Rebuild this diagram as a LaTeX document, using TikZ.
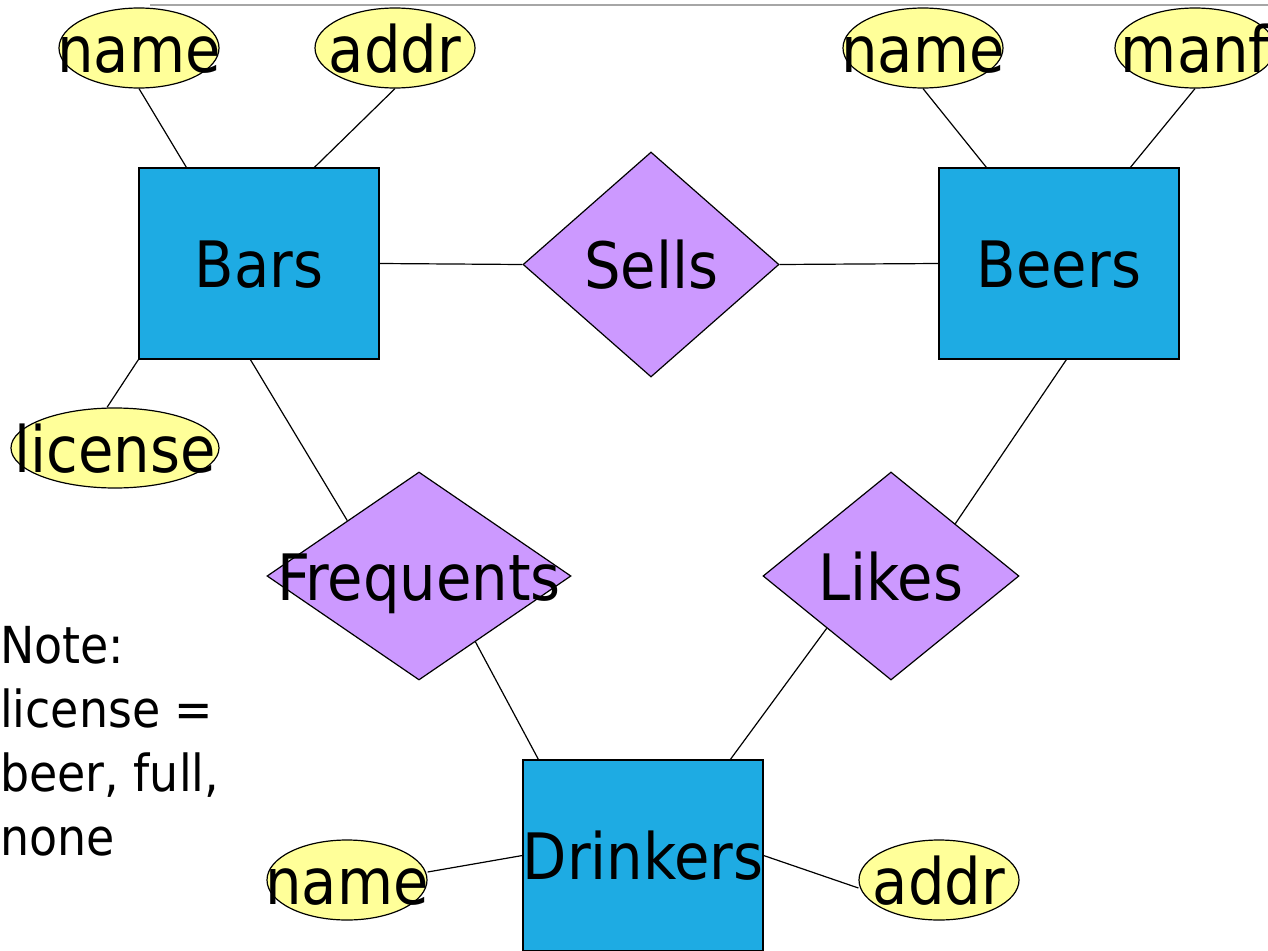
\documentclass[tikz,border=0pt]{standalone}
\usepackage{fontspec}
\setmainfont{DejaVu Sans Condensed}
\usetikzlibrary{shapes.geometric,calc}
\definecolor{entblue}{RGB}{30,171,227}
\definecolor{relpurple}{RGB}{204,153,255}
\definecolor{attryellow}{RGB}{255,255,153}
\begin{document}
\begin{tikzpicture}[x=1pt,y=-1pt,
  bigtext/.style={font=\fontsize{64}{64}\selectfont, text height=48pt, text depth=0pt, inner sep=0pt},
  entity/.style={draw, fill=entblue, line width=1.2pt, minimum width=240pt, minimum height=191pt, inner sep=0pt, label={[bigtext]center:#1}},
  rel/.style={diamond, draw, fill=relpurple, line width=1.2pt, inner sep=0pt, label={[bigtext]center:#1}},
  attr/.style={ellipse, draw, fill=attryellow, line width=1.2pt, minimum width=160pt, minimum height=80pt, inner sep=0pt, label={[bigtext]center:#1}},
  conn/.style={line width=1.2pt}
]
\useasboundingbox (0,0) rectangle (1268,950);
\draw[line width=1.5pt, black!35] (150,5) -- (1268,5);

% entities
\node[entity=Bars] (bars) at (259,263.5) {};
\node[entity=Beers] (beers) at (1059,263.5) {};
\node[entity=Drinkers] (drinkers) at (643,855.5) {};

% relationships
\node[rel=Sells, minimum width=256pt, minimum height=225pt] (sells) at (651,264.5) {};
\node[rel=Frequents, minimum width=304pt, minimum height=208pt] (freq) at (419,576) {};
\node[rel=Likes, minimum width=256pt, minimum height=208pt] (likes) at (891,576) {};

% attributes
\node[attr=name] (bname) at (139,48) {};
\node[attr=addr] (baddr) at (395,48) {};
\node[attr=name] (bename) at (923,48) {};
\node[attr=manf] (manf) at (1195,48) {};
\node[attr=license, minimum width=208pt] (license) at (115,448) {};
\node[attr=name] (dname) at (347,880) {};
\node[attr=addr] (daddr) at (939,880) {};

% note
\node[anchor=north west, align=left, inner sep=0pt, font=\fontsize{51}{64}\selectfont] (note) at (0,626) {Note:\\license =\\beer, full,\\none};

% connectors
\draw[conn] (bname.south) -- ($(bars.north west)+(48,0)$);
\draw[conn] (baddr.south) -- ($(bars.north west)+(176,0)$);
\draw[conn] (bename.south) -- ($(beers.north west)+(48,0)$);
\draw[conn] (manf.south) -- ($(beers.north west)+(192,0)$);
\draw[conn] ($(license.north)+(-8,0)$) -- (bars.south west);
\draw[conn] (bars.east) -- (sells.west);
\draw[conn] (sells.east) -- (beers.west);
\draw[conn] ($(bars.south west)+(112,0)$) -- ($(freq.north)!0.47!(freq.west)$);
\draw[conn] ($(freq.east)!0.63!(freq.south)$) -- ($(drinkers.north west)+(16,0)$);
\draw[conn] ($(beers.south west)+(128,0)$) -- ($(likes.north)!0.5!(likes.east)$);
\draw[conn] ($(likes.west)!0.5!(likes.south)$) -- ($(drinkers.north west)+(208,0)$);
\draw[conn] ($(dname.east)+(0,-8)$) -- (drinkers.west);
\draw[conn] (drinkers.east) -- ($(daddr.west)+(0,8)$);
\end{tikzpicture}
\end{document}
